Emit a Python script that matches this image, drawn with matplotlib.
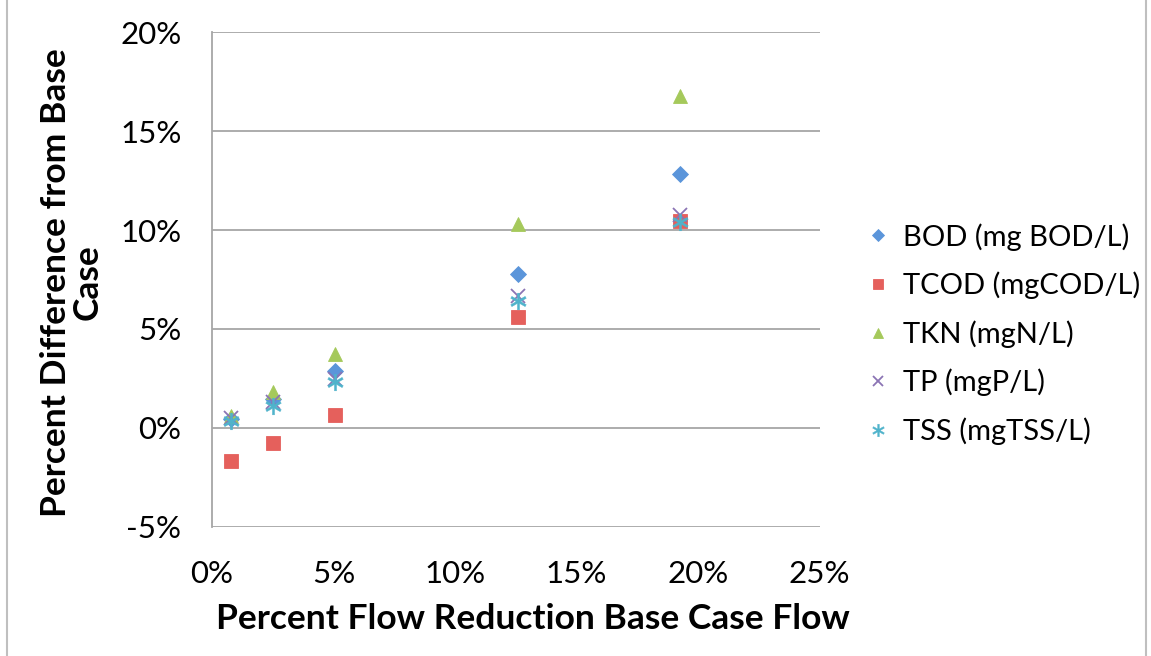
import matplotlib.pyplot as plt
from matplotlib.ticker import FuncFormatter
from matplotlib.patches import Rectangle

plt.rcParams['font.family'] = ['Lato', 'DejaVu Sans']

# flow reduction (%) and percent difference from base case for each parameter
flow_reduction = [0.8, 2.5, 5.05, 12.6, 19.25]
bod = [0.45, 1.45, 2.85, 7.8, 12.85]
tcod = [-1.65, -0.75, 0.65, 5.6, 10.45]
tkn = [0.6, 1.8, 3.75, 10.3, 16.8]
tp = [0.5, 1.3, 2.45, 6.65, 10.75]
tss = [0.35, 1.1, 2.3, 6.4, 10.4]

series = [
    ('BOD (mg BOD/L)', bod, 'D', '#5B95DA', 8.5),
    ('TCOD (mgCOD/L)', tcod, 's', '#E5605C', 10),
    ('TKN (mgN/L)', tkn, '^', '#A5C95B', 10.5),
    ('TP (mgP/L)', tp, 'x', '#8B74B4', 10),
    ('TSS (mgTSS/L)', tss, '$\u2217$', '#4FB3CB', 12),
]

fig = plt.figure(figsize=(11.51, 6.56), dpi=100)
ax = fig.add_axes([0.1842, 0.197, 0.528, 0.7538])

for name, vals, mk, col, ms in series:
    if mk == 'x':
        ax.plot(flow_reduction, vals, ls='none', marker=mk, color=col, ms=ms,
                mew=1.3, label=name, zorder=3)
    elif mk.startswith('$'):
        ax.plot(flow_reduction, vals, ls='none', marker=mk, color=col, ms=ms,
                mew=0.3, label=name, zorder=3)
    else:
        ax.plot(flow_reduction, vals, ls='none', marker=mk, color=col, ms=ms,
                mec=col, mew=0.6, label=name, zorder=3)

pct = FuncFormatter(lambda v, pos: '%d%%' % v)
ax.set_xlim(0, 25)
ax.set_ylim(-5, 20)
ax.set_xticks(range(0, 26, 5))
ax.set_yticks(range(-5, 21, 5))
ax.xaxis.set_major_formatter(pct)
ax.yaxis.set_major_formatter(pct)
ax.grid(axis='y', color='#A6A6A6', lw=1.3)
ax.set_axisbelow(True)
for s in ['top', 'right', 'bottom']:
    ax.spines[s].set_visible(False)
ax.spines['left'].set_color('#A6A6A6')
ax.spines['left'].set_linewidth(1.3)
ax.tick_params(length=0, labelsize=22.5)
ax.tick_params(axis='y', pad=22)
ax.tick_params(axis='x', pad=24)

ax.set_xlabel('Percent Flow Reduction Base Case Flow', fontsize=25.5,
              fontweight='bold', labelpad=12)
ax.xaxis.set_label_coords(0.528, -0.155)
ax.set_ylabel('Percent Difference from Base\nCase', fontsize=25.5,
              fontweight='bold', linespacing=1.0)
ax.yaxis.set_label_coords(-0.178, 0.494)

ax.legend(loc='center left', bbox_to_anchor=(1.036, 0.39), frameon=False,
          fontsize=21, handlelength=0.7, handletextpad=0.5, labelspacing=0.72,
          markerscale=0.75)

# light chart-area border
fig.add_artist(Rectangle((0.006, -0.01), 0.99, 1.02, transform=fig.transFigure,
                         fill=False, ec='#BFBFBF', lw=1.5))

fig.savefig('out.png', dpi=100)
